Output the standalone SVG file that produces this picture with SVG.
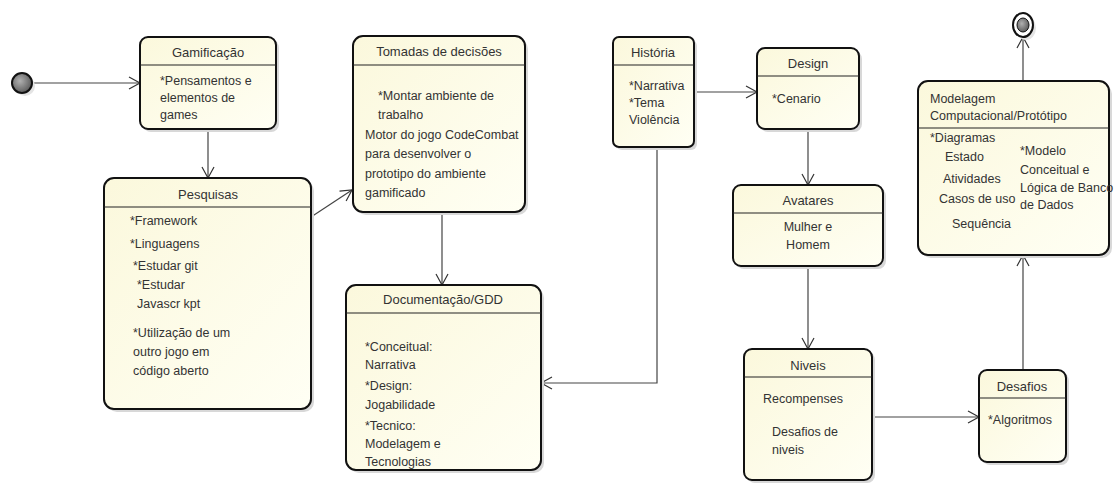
<svg xmlns="http://www.w3.org/2000/svg" width="1118" height="484" viewBox="0 0 1118 484">
<defs>
<linearGradient id="fill" x1="0" y1="0" x2="1" y2="1">
<stop offset="0" stop-color="#fbf8dc"/>
<stop offset="1" stop-color="#fffff4"/>
</linearGradient>
<radialGradient id="ball" cx="0.4" cy="0.4" r="0.7">
<stop offset="0" stop-color="#b0b0b0"/>
<stop offset="1" stop-color="#505050"/>
</radialGradient>
<marker id="arr" markerWidth="14" markerHeight="14" refX="12" refY="7" orient="auto" markerUnits="userSpaceOnUse">
<path d="M1,1 L12,7 L1,13" fill="none" stroke="#333" stroke-width="1.2"/>
</marker>
</defs>
<style>
.box{fill:url(#fill);stroke:#111;stroke-width:2}
.sh{fill:#d8d8d8}
.sep{stroke:#222;stroke-width:1.2}
.t{font-family:"Liberation Sans",Arial,sans-serif;font-size:12.5px;fill:#333}
.h{font-family:"Liberation Sans",Arial,sans-serif;font-size:13px;fill:#333;text-anchor:middle}
.c{text-anchor:middle}
.e{fill:none;stroke:#444;stroke-width:1.2}
</style>
<rect width="1118" height="484" fill="#ffffff"/>

<g id="connectors">
<path class="e" d="M32,83 L140,83" marker-end="url(#arr)"/>
<path class="e" d="M208,129 L208,178" marker-end="url(#arr)"/>
<path class="e" d="M311,217 L352,190" marker-end="url(#arr)"/>
<path class="e" d="M442,212 L442,285" marker-end="url(#arr)"/>
<path class="e" d="M657,147 L657,383 L541,383" marker-end="url(#arr)"/>
<path class="e" d="M694,92 L757,92" marker-end="url(#arr)"/>
<path class="e" d="M808,129 L808,185" marker-end="url(#arr)"/>
<path class="e" d="M808,266 L808,349" marker-end="url(#arr)"/>
<path class="e" d="M872,417 L979,417" marker-end="url(#arr)"/>
<path class="e" d="M1023,370 L1023,255" marker-end="url(#arr)"/>
<path class="e" d="M1023,81 L1023,37" marker-end="url(#arr)"/>
</g>

<g id="start">
<circle cx="25" cy="86" r="10" fill="#e4e4e4"/>
<circle cx="22" cy="83" r="10" fill="url(#ball)" stroke="#111" stroke-width="2"/>
</g>

<g id="end">
<ellipse cx="1026" cy="28" rx="10" ry="12" fill="#e4e4e4"/>
<ellipse cx="1023" cy="25" rx="10" ry="12" fill="#fff" stroke="#111" stroke-width="2"/>
<ellipse cx="1023" cy="25" rx="6" ry="7" fill="url(#ball)" stroke="#111" stroke-width="1"/>
</g>

<g id="gamificacao">
<rect class="sh" x="143" y="40" width="136" height="92" rx="8"/>
<rect class="box" x="140" y="37" width="136" height="92" rx="8"/>
<line class="sep" x1="140" y1="65" x2="276" y2="65"/>
<text class="h" x="208" y="57">Gamificação</text>
<text class="t" x="160" y="85">*Pensamentos e</text>
<text class="t" x="160" y="102">elementos de</text>
<text class="t" x="160" y="119">games</text>
</g>

<g id="pesquisas">
<rect class="sh" x="107" y="181" width="207" height="231" rx="10"/>
<rect class="box" x="104" y="178" width="207" height="231" rx="10"/>
<line class="sep" x1="104" y1="207" x2="311" y2="207"/>
<text class="h" x="208" y="199">Pesquisas</text>
<text class="t" x="130" y="225">*Framework</text>
<text class="t" x="130" y="248">*Linguagens</text>
<text class="t" x="133" y="270">*Estudar git</text>
<text class="t" x="137" y="289">*Estudar</text>
<text class="t" x="137" y="308">Javascr kpt</text>
<text class="t" x="133" y="337">*Utilização de um</text>
<text class="t" x="133" y="356">outro jogo em</text>
<text class="t" x="133" y="375">código aberto</text>
</g>

<g id="tomadas">
<rect class="sh" x="356" y="39" width="172" height="176" rx="10"/>
<rect class="box" x="353" y="36" width="172" height="176" rx="10"/>
<line class="sep" x1="353" y1="65" x2="525" y2="65"/>
<text class="h" x="439" y="56">Tomadas de decisões</text>
<text class="t" x="378" y="100">*Montar ambiente de</text>
<text class="t" x="378" y="119">trabalho</text>
<text class="t" x="365" y="139">Motor do jogo CodeCombat</text>
<text class="t" x="365" y="158">para desenvolver o</text>
<text class="t" x="365" y="178">prototipo do ambiente</text>
<text class="t" x="365" y="197">gamificado</text>
</g>

<g id="documentacao">
<rect class="sh" x="349" y="288" width="195" height="185" rx="10"/>
<rect class="box" x="346" y="285" width="195" height="185" rx="10"/>
<line class="sep" x1="346" y1="313" x2="541" y2="313"/>
<text class="h" x="443" y="304">Documentação/GDD</text>
<text class="t" x="365" y="351">*Conceitual:</text>
<text class="t" x="365" y="369">Narrativa</text>
<text class="t" x="365" y="390">*Design:</text>
<text class="t" x="365" y="409">Jogabilidade</text>
<text class="t" x="365" y="430">*Tecnico:</text>
<text class="t" x="365" y="448">Modelagem e</text>
<text class="t" x="365" y="466">Tecnologias</text>
</g>

<g id="historia">
<rect class="sh" x="616" y="40" width="81" height="110" rx="6"/>
<rect class="box" x="613" y="37" width="81" height="110" rx="6"/>
<line class="sep" x1="613" y1="65" x2="694" y2="65"/>
<text class="h" x="653" y="57">História</text>
<text class="t" x="629" y="90">*Narrativa</text>
<text class="t" x="629" y="107">*Tema</text>
<text class="t" x="629" y="124">Violência</text>
</g>

<g id="design">
<rect class="sh" x="760" y="51" width="102" height="81" rx="8"/>
<rect class="box" x="757" y="48" width="102" height="81" rx="8"/>
<line class="sep" x1="757" y1="76" x2="859" y2="76"/>
<text class="h" x="808" y="68">Design</text>
<text class="t" x="772" y="103">*Cenario</text>
</g>

<g id="avatares">
<rect class="sh" x="736" y="188" width="150" height="81" rx="8"/>
<rect class="box" x="733" y="185" width="150" height="81" rx="8"/>
<line class="sep" x1="733" y1="213" x2="883" y2="213"/>
<text class="h" x="808" y="205">Avatares</text>
<text class="t c" x="808" y="231">Mulher e</text>
<text class="t c" x="808" y="249">Homem</text>
</g>

<g id="niveis">
<rect class="sh" x="747" y="352" width="128" height="131" rx="8"/>
<rect class="box" x="744" y="349" width="128" height="131" rx="8"/>
<line class="sep" x1="744" y1="377" x2="872" y2="377"/>
<text class="h" x="808" y="370">Niveis</text>
<text class="t" x="763" y="403">Recompenses</text>
<text class="t" x="772" y="436">Desafios de</text>
<text class="t" x="772" y="454">niveis</text>
</g>

<g id="desafios">
<rect class="sh" x="982" y="373" width="87" height="92" rx="8"/>
<rect class="box" x="979" y="370" width="87" height="92" rx="8"/>
<line class="sep" x1="979" y1="398" x2="1066" y2="398"/>
<text class="h" x="1022" y="391">Desafios</text>
<text class="t" x="988" y="424">*Algoritmos</text>
</g>

<g id="modelagem">
<rect class="sh" x="921" y="84" width="191" height="174" rx="10"/>
<rect class="box" x="918" y="81" width="191" height="174" rx="10"/>
<line class="sep" x1="918" y1="128" x2="1109" y2="128"/>
<text class="t" x="930" y="103">Modelagem</text>
<text class="t" x="930" y="120">Computacional/Protótipo</text>
<text class="t" x="930" y="142">*Diagramas</text>
<text class="t" x="945" y="161">Estado</text>
<text class="t" x="943" y="183">Atividades</text>
<text class="t" x="939" y="203">Casos de uso</text>
<text class="t" x="952" y="228">Sequência</text>
<text class="t" x="1020" y="155">*Modelo</text>
<text class="t" x="1020" y="174">Conceitual e</text>
<text class="t" x="1020" y="192">Lógica de Banco</text>
<text class="t" x="1020" y="209">de Dados</text>
</g>
</svg>
